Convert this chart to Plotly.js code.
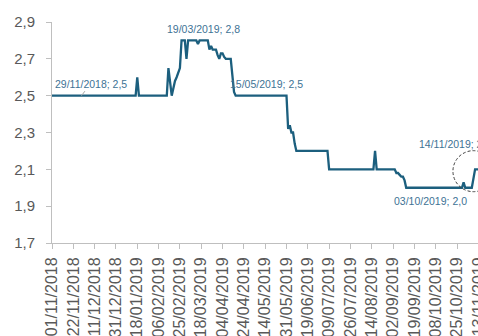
<!DOCTYPE html>
<html>
<head>
<meta charset="utf-8">
<script src="https://cdn.plot.ly/plotly-3.0.1.min.js"></script>
<style>
html,body{margin:0;padding:0;overflow:hidden;width:478px;height:336px;background:#fff;}
#chart{width:520px;height:336px;}
</style>
</head>
<body>
<div id="chart"></div>
<script>
// Change points of the daily series (business days)
const dates = [
 '2018-11-01','2019-01-17','2019-01-18','2019-01-21','2019-02-13','2019-02-14','2019-02-18',
 '2019-02-20','2019-02-21','2019-02-25','2019-02-26','2019-02-28','2019-03-01','2019-03-06',
 '2019-03-13','2019-03-14','2019-03-15','2019-03-22','2019-03-25','2019-03-26','2019-03-27',
 '2019-03-29','2019-04-01','2019-04-02','2019-04-03','2019-04-04','2019-04-05','2019-04-08',
 '2019-04-11','2019-04-12','2019-04-15','2019-04-16','2019-05-31','2019-06-03','2019-06-04',
 '2019-06-05','2019-06-06','2019-06-07','2019-06-10','2019-07-08','2019-07-09','2019-08-15',
 '2019-08-16','2019-08-19','2019-09-03','2019-09-04','2019-09-05','2019-09-06','2019-09-09',
 '2019-09-10','2019-09-11','2019-09-12','2019-10-30','2019-10-31','2019-11-01','2019-11-07',
 '2019-11-11','2019-11-14'
];
const rates = [
 2.5, 2.5, 2.6, 2.5, 2.5, 2.65, 2.5,
 2.58, 2.6, 2.65, 2.8, 2.8, 2.7, 2.8,
 2.8, 2.78, 2.8, 2.8, 2.75, 2.77, 2.75,
 2.75, 2.72, 2.7, 2.73, 2.73, 2.71, 2.7,
 2.7, 2.6, 2.52, 2.5, 2.5, 2.32, 2.34,
 2.3, 2.3, 2.24, 2.2, 2.2, 2.1, 2.1,
 2.2, 2.1, 2.1, 2.08, 2.08, 2.07, 2.06,
 2.06, 2.04, 2.0, 2.0, 2.03, 2.0, 2.0,
 2.1, 2.1
];
// Non-trading days (holidays) excluded from the category axis
const holidays = ['2018-11-02','2018-11-15','2018-12-25','2019-01-01','2019-03-04','2019-03-05',
 '2019-04-19','2019-05-01','2019-06-20','2019-11-15'];
// Tick labels
const tickLabels = ['01/11/2018','22/11/2018','11/12/2018','31/12/2018','18/01/2019','06/02/2019',
 '25/02/2019','18/03/2019','04/04/2019','24/04/2019','14/05/2019','31/05/2019','19/06/2019',
 '09/07/2019','26/07/2019','14/08/2019','02/09/2019','19/09/2019','08/10/2019','25/10/2019','13/11/2019'];
// Labelled points
const labelDates = ['2018-11-29','2019-03-19','2019-05-15','2019-10-03','2019-11-14'];
const labelValues = [2.5, 2.8, 2.5, 2.0, 2.1];

const toIso = s => { const p = s.split('/'); return p[2] + '-' + p[1] + '-' + p[0]; };
const fmt = (d, v) => { const p = d.split('-'); return p[2] + '/' + p[1] + '/' + p[0] + '; ' + v.toFixed(1).replace('.', ','); };

const lineColor = '#1c5f7e';
const annColor = '#3e7395';
const font = 'Liberation Sans, Arial, sans-serif';

const trace = {
  x: dates, y: rates, type: 'scatter', mode: 'lines',
  line: {color: lineColor, width: 2.3}, hoverinfo: 'x+y'
};

const offsets = [
  {xshift: 0, yshift: 0, arrow: true},
  {xshift: 1, yshift: 11},
  {xshift: 0, yshift: 12},
  {xshift: 0, yshift: -13},
  {xshift: -25, yshift: 25}
];
const annotations = labelDates.map((d, i) => {
  const o = offsets[i];
  const a = {
    x: d, y: labelValues[i], xref: 'x', yref: 'y',
    text: fmt(d, labelValues[i]),
    font: {family: font, size: 10.5, color: annColor},
    showarrow: !!o.arrow, xshift: o.xshift, yshift: o.yshift
  };
  if (o.arrow) {
    a.ax = 9; a.ay = -12; a.arrowhead = 0; a.arrowwidth = 1; a.arrowcolor = '#a6a6a6';
    a.standoff = 0;
  }
  return a;
});

const layout = {
  width: 520, height: 336,
  margin: {l: 52, r: 40, t: 22, b: 93, pad: 0},
  paper_bgcolor: '#fff', plot_bgcolor: '#fff',
  separators: ',.',
  showlegend: false,
  font: {family: font, color: '#595959'},
  xaxis: {
    type: 'date',
    range: ['2018-11-01', '2019-11-14'],
    rangebreaks: [{bounds: ['sat', 'mon']}, {values: holidays}],
    tickmode: 'array',
    tickvals: tickLabels.map(toIso),
    ticktext: tickLabels,
    tickangle: -90,
    tickfont: {family: font, size: 16, color: '#595959'},
    ticks: 'outside', ticklen: 5, tickcolor: '#bfbfbf', tickwidth: 1,
    ticklabelstandoff: 2,
    showline: true, linecolor: '#bfbfbf', linewidth: 1,
    showgrid: false, zeroline: false, fixedrange: true
  },
  yaxis: {
    range: [1.7, 2.9],
    tick0: 1.7, dtick: 0.2, tickformat: '.1f',
    tickfont: {family: font, size: 15, color: '#595959'},
    ticks: 'outside', ticklen: 5, tickcolor: '#bfbfbf', tickwidth: 1,
    ticklabelstandoff: 8,
    showline: true, linecolor: '#bfbfbf', linewidth: 1,
    showgrid: false, zeroline: false, fixedrange: true
  },
  annotations: annotations,
  shapes: [{
    type: 'circle', xref: 'x', yref: 'y',
    xsizemode: 'pixel', ysizemode: 'pixel',
    xanchor: '2019-11-08', yanchor: 2.09,
    x0: -20.5, x1: 20.5, y0: -20.5, y1: 20.5,
    line: {color: '#404040', width: 1, dash: '3px,2px'}
  }]
};

Plotly.newPlot('chart', [trace], layout, {displayModeBar: false, staticPlot: true});
</script>
</body>
</html>
